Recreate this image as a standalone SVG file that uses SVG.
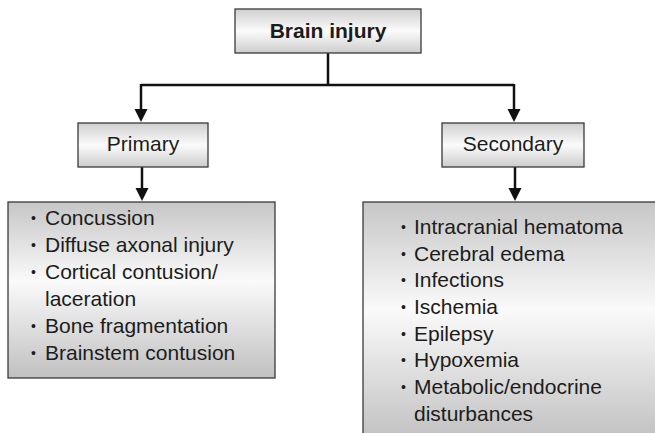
<svg xmlns="http://www.w3.org/2000/svg" width="655" height="433" viewBox="0 0 655 433">
<defs>
<linearGradient id="gHead" x1="0" y1="0" x2="0" y2="1">
<stop offset="0" stop-color="#cfcfcf"/>
<stop offset="0.5" stop-color="#fbfbfb"/>
<stop offset="1" stop-color="#cdcdcd"/>
</linearGradient>
<linearGradient id="gList" x1="0" y1="0" x2="0" y2="1">
<stop offset="0" stop-color="#c6c6c6"/>
<stop offset="0.45" stop-color="#fafafa"/>
<stop offset="1" stop-color="#c0c0c0"/>
</linearGradient>
<marker id="arr" markerWidth="13" markerHeight="13" viewBox="0 0 13 13" refX="6.5" refY="13" orient="auto" markerUnits="userSpaceOnUse">
<path d="M0,0 L13,0 L6.5,13 Z" fill="#111"/>
</marker>
<style>
.box{stroke:#3a3a3a;stroke-width:1.3}
.t{font-family:"Liberation Sans",Arial,sans-serif;font-size:21px;fill:#1c1c1c}
.b{font-size:14px}
.ln{fill:none;stroke:#111;stroke-width:2.5}
</style>
</defs>
<g id="connectors">
<path class="ln" d="M328,53 V85 M141,85 H514"/>
<path class="ln" d="M141,84 V109"/>
<path class="ln" d="M514,84 V109"/>
<path d="M134.5,109 L147.5,109 L141,122 Z" fill="#111"/>
<path d="M507.5,109 L520.5,109 L514,122 Z" fill="#111"/>
<path class="ln" d="M142,167 V189"/>
<path class="ln" d="M515,167 V189"/>
<path d="M135.5,188 L148.5,188 L142,201 Z" fill="#111"/>
<path d="M508.5,188 L521.5,188 L515,201 Z" fill="#111"/>
</g>
<g id="brain-injury">
<rect class="box" x="235" y="9" width="186" height="44" fill="url(#gHead)"/>
<text class="t" x="328" y="38" text-anchor="middle" font-weight="bold">Brain injury</text>
</g>
<g id="primary">
<rect class="box" x="78" y="123" width="130" height="44" fill="url(#gHead)"/>
<text class="t" x="143" y="151" text-anchor="middle">Primary</text>
</g>
<g id="secondary">
<rect class="box" x="442" y="123" width="142" height="44" fill="url(#gHead)"/>
<text class="t" x="513" y="151" text-anchor="middle">Secondary</text>
</g>
<g id="primary-list">
<rect class="box" x="8" y="202" width="267" height="176" fill="url(#gList)"/>
<g class="t">
<text x="31" y="223" class="b">•</text><text x="45" y="225">Concussion</text>
<text x="31" y="250" class="b">•</text><text x="45" y="252">Diffuse axonal injury</text>
<text x="31" y="277" class="b">•</text><text x="45" y="279">Cortical contusion/</text>
<text x="45" y="306">laceration</text>
<text x="31" y="331" class="b">•</text><text x="45" y="333">Bone fragmentation</text>
<text x="31" y="358" class="b">•</text><text x="45" y="360">Brainstem contusion</text>
</g>
</g>
<g id="secondary-list">
<rect class="box" x="363" y="202" width="300" height="240" fill="url(#gList)"/>
<g class="t">
<text x="401" y="232" class="b">•</text><text x="414" y="234">Intracranial hematoma</text>
<text x="401" y="259" class="b">•</text><text x="414" y="261">Cerebral edema</text>
<text x="401" y="285" class="b">•</text><text x="414" y="287">Infections</text>
<text x="401" y="312" class="b">•</text><text x="414" y="314">Ischemia</text>
<text x="401" y="339" class="b">•</text><text x="414" y="341">Epilepsy</text>
<text x="401" y="365" class="b">•</text><text x="414" y="367">Hypoxemia</text>
<text x="401" y="392" class="b">•</text><text x="414" y="394">Metabolic/endocrine</text>
<text x="414" y="421">disturbances</text>
</g>
</g>
</svg>
